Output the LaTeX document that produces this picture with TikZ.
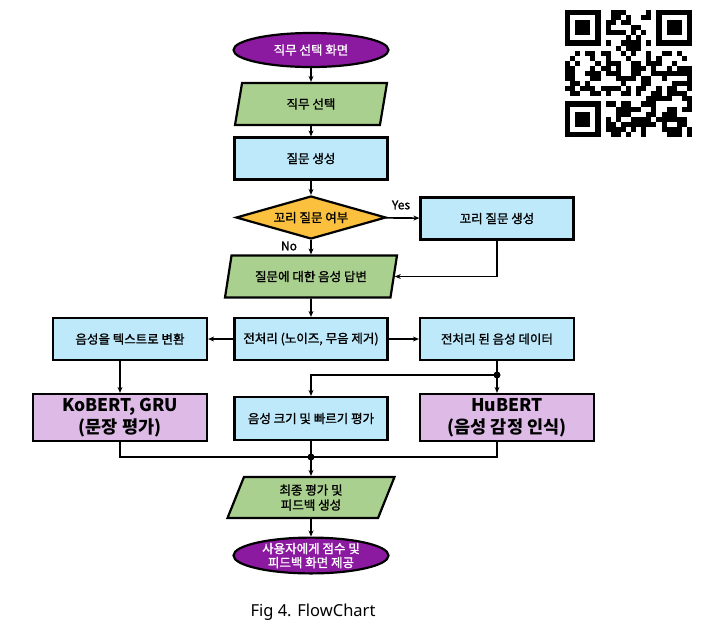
\documentclass[tikz,border=0pt]{standalone}
\usepackage{fontspec}
\setmainfont{Noto Sans CJK KR}
\newfontfamily\boxfont{Noto Sans CJK KR}[FakeBold=1.3]
\newfontfamily\capfont{Noto Sans}
\usetikzlibrary{shapes.geometric,arrows.meta,positioning}
\definecolor{termpurple}{RGB}{140,26,160}
\definecolor{iogreen}{RGB}{169,208,142}
\definecolor{procblue}{RGB}{190,233,250}
\definecolor{decgold}{RGB}{251,192,62}
\definecolor{modelpink}{RGB}{221,187,230}

\tikzset{
  shape base/.style={draw=black, line width=2.2pt, inner sep=0pt, align=center,
    font=\boxfont\fontsize{12.5pt}{15pt}\selectfont},
  termnode/.style={shape base, ellipse, fill=termpurple, text=white,
    minimum width=155pt, minimum height=34pt},
  ionode/.style={shape base, trapezium, trapezium left angle=58, trapezium right angle=122,
    trapezium stretches body, fill=iogreen, minimum height=42pt},
  procnode/.style={shape base, rectangle, fill=procblue, minimum width=153pt, minimum height=42pt},
  decnode/.style={shape base, diamond, aspect=3.5, fill=decgold, minimum width=150pt, minimum height=43pt},
  modelnode/.style={shape base, rectangle, fill=modelpink, minimum width=174pt, minimum height=47pt,
    font=\fontsize{17.5pt}{22pt}\selectfont\bfseries},
  link/.style={line width=1.6pt, -{Stealth[length=6pt,width=5pt]}},
  wire/.style={line width=1.6pt},
  joint/.style={fill=black}
}

\begin{document}
\begin{tikzpicture}[x=1pt, y=-1pt]
  \useasboundingbox (0,0) rectangle (707,633);

  % Main column
  \node[termnode] (start) at (311,50) {직무 선택 화면};
  \node[ionode, minimum width=152pt] (select) at (311,104) {직무 선택};
  \node[procnode] (qgen) at (311,158.5) {질문 생성};
  \node[decnode] (tailcheck) at (311,217.5) {꼬리 질문 여부};
  \node[procnode] (tailgen) at (497,218.5) {꼬리 질문 생성};
  \node[ionode, minimum width=172pt, trapezium left angle=60, trapezium right angle=120]
    (answer) at (311,276.5) {질문에 대한 음성 답변};

  % Preprocessing row
  \node[procnode] (prep) at (311,339) {전처리 (노이즈, 무음 제거)};
  \node[procnode, minimum width=154pt] (stt) at (130,339) {음성을 텍스트로 변환};
  \node[procnode, minimum width=154pt] (prepdata) at (497,339) {전처리 된 음성 데이터};

  % Evaluation row
  \node[modelnode] (kobert) at (120,417.5) {KoBERT, GRU\\(문장 평가)};
  \node[procnode, minimum height=43pt] (volume) at (311,418.5) {음성 크기 및 빠르기 평가};
  \node[modelnode] (hubert) at (507,417.5) {HuBERT\\(음성 감정 인식)};

  % Result
  \node[ionode, minimum width=167pt, minimum height=41pt] (final) at (311,497.5) {최종 평가 및\\피드백 생성};
  \node[termnode, minimum height=35pt, font=\boxfont\fontsize{12.5pt}{14pt}\selectfont] (finish) at (311,555.5)
    {사용자에게 점수 및\\피드백 화면 제공};

  \coordinate (split) at (497,375);
  \coordinate (merge) at (311,457);

  % Connectors
  \draw[link] (start) -- (select);
  \draw[link] (select) -- (qgen);
  \draw[link] (qgen) -- (tailcheck);
  \draw[link] (tailcheck) -- (tailgen);
  \draw[link] (tailcheck) -- (answer);
  \draw[link] (tailgen.south) |- (answer.east);
  \draw[link] (answer) -- (prep);
  \draw[link] (prep) -- (stt);
  \draw[link] (prep) -- (prepdata);
  \draw[link] (stt.south -| kobert.north) -- (kobert.north);
  \draw[wire] (prepdata.south) -- (split);
  \draw[link] (split) -- (split |- hubert.north);
  \draw[link] (split) -| (volume.north);
  \draw[wire] (kobert.south) |- (merge);
  \draw[wire] (split |- hubert.south) |- (merge);
  \draw[wire] (volume.south) -- (merge);
  \draw[link] (merge) -- (final);
  \draw[link] (final) -- (finish);
  \fill[joint] (split) circle (3.5pt);
  \fill[joint] (merge) circle (3.5pt);

  % Branch labels
  \node[font=\boxfont\fontsize{12pt}{14pt}\selectfont] (yes) at (401,205) {Yes};
  \node[font=\boxfont\fontsize{12pt}{14pt}\selectfont] (no) at (289,246) {No};

  % Caption
  \node[font=\capfont\fontsize{16.5pt}{20pt}\selectfont] (caption) at (313,612) {Fig 4. FlowChart};

  % QR code
  \pgfmathsetseed{11}
  \foreach \r in {0,...,24}{
    \foreach \c in {0,...,24}{
      \pgfmathtruncatemacro{\finder}{((\r<8)&&(\c<8))||((\r<8)&&(\c>16))||((\r>16)&&(\c<8))}
      \pgfmathrandominteger{\bit}{0}{1}
      \ifnum\finder=0 \ifnum\bit=1
        \fill (565+\c*5.08,10+\r*5.08) rectangle ++(5.08,5.08);
      \fi\fi
    }
  }
  \foreach \cx/\cy in {0/0,18/0,0/18}{
    \fill (565+\cx*5.08,10+\cy*5.08) rectangle ++(35.56,35.56);
    \fill[white] (565+\cx*5.08+5.08,10+\cy*5.08+5.08) rectangle ++(25.4,25.4);
    \fill (565+\cx*5.08+10.16,10+\cy*5.08+10.16) rectangle ++(15.24,15.24);
  }
\end{tikzpicture}
\end{document}
